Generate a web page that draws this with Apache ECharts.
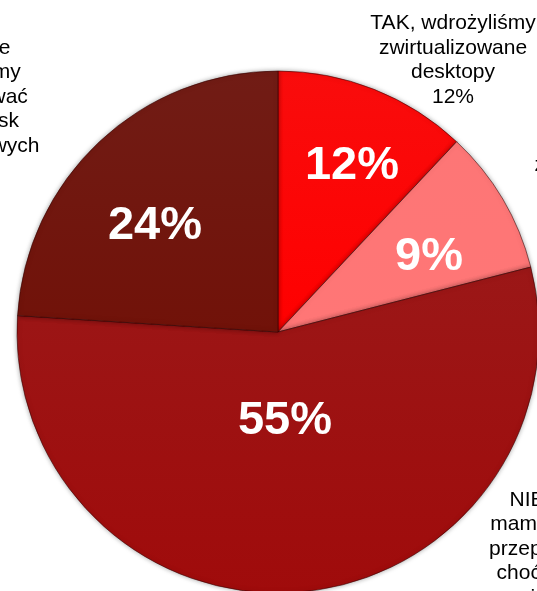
<!DOCTYPE html>
<html>
<head>
<meta charset="utf-8">
<script src="https://cdn.jsdelivr.net/npm/echarts@6/dist/echarts.min.js"></script>
<style>
    html, body { margin: 0; padding: 0; background: #fff; }
    #chart { width: 537px; height: 591px; }
</style>
</head>
<body>
<div id="chart"></div>
<script>
const categories = [
    'TAK, wdrożyliśmy\nzwirtualizowane\ndesktopy',
    'TAK, jesteśmy w\ntrakcie wdrażania\nzwirtualizowanych\ndesktopów',
    'NIE, i też nie\nmamy w planach\nprzeprowadzenia\nchoćby pilotażu\nwirtualizacji',
    'NIE, ale\nplanujemy\nzastosować\nstanowisk\ndesktopowych'
];
const values = [12, 9, 55, 24];
const colors = ['#f90000', '#fd6f6f', '#960b0b', '#6a1109'];

// label anchors (style only)
const innerPos = [[352, 166], [429, 257], [285, 421], [155, 226]];
const outerPos = [[453, 60], [619, 165], [569, 561], [-27, 109]];

const font = 'Arial, "Liberation Sans", sans-serif';
const chart = echarts.init(document.getElementById('chart'));

const data = categories.map((name, i) => ({
    name: name,
    value: values[i],
    itemStyle: {
        color: new echarts.graphic.LinearGradient(0, 0, 0, 1, [
            { offset: 0, color: echarts.color.lift(colors[i], 0.05) },
            { offset: 1, color: echarts.color.lift(colors[i], -0.07) }
        ])
    }
}));

chart.setOption({
    animation: false,
    series: [
        {
            type: 'pie',
            center: [278, 332],
            radius: 261,
            startAngle: 90,
            clockwise: true,
            silent: true,
            data: data,
            itemStyle: {
                borderColor: 'rgba(50, 0, 0, 0.55)',
                borderWidth: 1,
                shadowBlur: 5,
                shadowColor: 'rgba(0, 0, 0, 0.35)'
            },
            label: {
                show: true,
                position: 'inside',
                formatter: '{c}%',
                color: '#fff',
                fontFamily: font,
                fontWeight: 'bold',
                fontSize: 47
            },
            labelLine: { show: false },
            labelLayout: p => ({
                x: innerPos[p.dataIndex][0],
                y: innerPos[p.dataIndex][1],
                align: 'center',
                verticalAlign: 'middle'
            })
        },
        {
            type: 'pie',
            center: [278, 332],
            radius: 261,
            startAngle: 90,
            clockwise: true,
            silent: true,
            data: categories.map((name, i) => ({ name: name, value: values[i] })),
            itemStyle: { color: 'rgba(0,0,0,0)', borderWidth: 0 },
            label: {
                show: true,
                position: 'outside',
                formatter: '{b}\n{c}%',
                color: '#000',
                fontFamily: font,
                fontSize: 21,
                lineHeight: 24.5,
                align: 'center',
                overflow: 'none'
            },
            labelLine: { show: false },
            labelLayout: p => ({
                x: outerPos[p.dataIndex][0],
                y: outerPos[p.dataIndex][1],
                align: 'center',
                verticalAlign: 'middle'
            })
        }
    ]
});
</script>
</body>
</html>
